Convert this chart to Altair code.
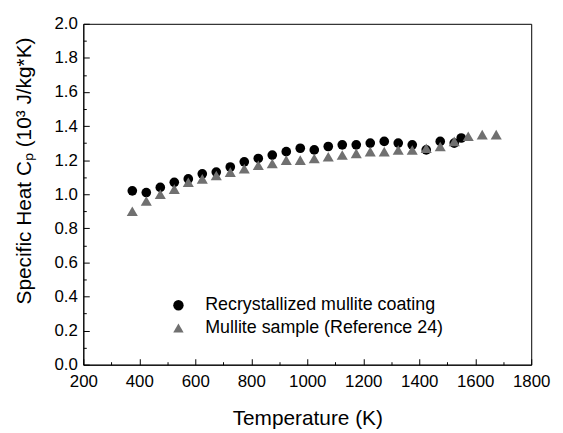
import altair as alt
import pandas as pd

# Recrystallized mullite coating (circles)
t_coat = [375, 425, 475, 525, 575, 625, 675, 725, 775, 825, 875, 925, 975, 1025,
          1075, 1125, 1175, 1225, 1275, 1325, 1375, 1425, 1475, 1525, 1550]
cp_coat = [1.02, 1.01, 1.04, 1.07, 1.09, 1.12, 1.13, 1.16, 1.19, 1.21, 1.23, 1.25, 1.27, 1.26,
           1.28, 1.29, 1.29, 1.30, 1.31, 1.30, 1.29, 1.26, 1.31, 1.30, 1.33]

# Mullite sample (Reference 24) (triangles)
t_ref = [375, 425, 475, 525, 575, 625, 675, 725, 775, 825, 875, 925, 975, 1025,
         1075, 1125, 1175, 1225, 1275, 1325, 1375, 1425, 1475, 1525, 1575, 1625, 1675]
cp_ref = [0.90, 0.96, 1.00, 1.03, 1.07, 1.09, 1.11, 1.13, 1.15, 1.17, 1.18, 1.20, 1.20, 1.21,
          1.22, 1.23, 1.24, 1.25, 1.25, 1.26, 1.26, 1.27, 1.28, 1.31, 1.34, 1.35, 1.35]

series_names = ["Recrystallized mullite coating", "Mullite sample (Reference 24)"]
series_colors = ["#000000", "#707070"]
series_shapes = ["circle", "triangle-up"]

x_major = [200, 400, 600, 800, 1000, 1200, 1400, 1600, 1800]
x_minor = [300, 500, 700, 900, 1100, 1300, 1500, 1700]
y_major = [0.0, 0.2, 0.4, 0.6, 0.8, 1.0, 1.2, 1.4, 1.6, 1.8, 2.0]
y_minor = [0.1, 0.3, 0.5, 0.7, 0.9, 1.1, 1.3, 1.5, 1.7, 1.9]

df_coat = pd.DataFrame({"T": t_coat, "Cp": cp_coat, "series": series_names[0]})
df_ref = pd.DataFrame({"T": t_ref, "Cp": cp_ref, "series": series_names[1]})

W, H = 452, 344
FONT = "Liberation Sans"

xscale = alt.Scale(domain=[200, 1800], nice=False, zero=False)
yscale = alt.Scale(domain=[0, 2.0], nice=False, zero=False)
cscale = alt.Scale(domain=series_names, range=series_colors)
sscale = alt.Scale(domain=series_names, range=series_shapes)

legend = alt.Legend(
    title=None, orient="none", legendX=87, legendY=275,
    labelFontSize=18, labelFont=FONT, labelColor="#000", labelLimit=0,
    symbolSize=110, symbolStrokeWidth=0, labelOffset=18, rowPadding=5,
    symbolOpacity=1,
)

circles = alt.Chart(df_coat).mark_point(filled=True, size=95, opacity=1).encode(
    x=alt.X("T:Q", scale=xscale,
            axis=alt.Axis(values=x_major, tickSize={"expr": "-6"}, labelPadding=15,
                          format="d", labelOverlap=False, labelFlush=False,
                          title="Temperature (K)", titlePadding=18)),
    y=alt.Y("Cp:Q", scale=yscale,
            axis=alt.Axis(values=y_major, tickSize={"expr": "-6"}, labelPadding=12,
                          format=".1f", labelOverlap=False, labelFlush=False,
                          title="Specific Heat C\u209a (10\u00b3 J/kg*K)", titlePadding=20,
                          titleY=148)),
    color=alt.Color("series:N", scale=cscale, legend=legend),
    shape=alt.Shape("series:N", scale=sscale, legend=legend),
)

triangles = alt.Chart(df_ref).mark_point(filled=True, size=125, opacity=1).encode(
    x=alt.X("T:Q", scale=xscale, axis=None),
    y=alt.Y("Cp:Q", scale=yscale, axis=None),
    color=alt.Color("series:N", scale=cscale, legend=legend),
    shape=alt.Shape("series:N", scale=sscale, legend=legend),
)

minor = alt.Chart(df_coat).mark_point(opacity=0).encode(
    x=alt.X("T:Q", scale=xscale,
            axis=alt.Axis(orient="bottom", values=x_minor, labels=False, domain=False,
                          tickSize={"expr": "-3"}, title=None)),
    y=alt.Y("Cp:Q", scale=yscale,
            axis=alt.Axis(orient="left", values=y_minor, labels=False, domain=False,
                          tickSize={"expr": "-3"}, title=None)),
)

chart = alt.layer(circles, triangles, minor).resolve_axis(
    x="independent", y="independent"
).properties(
    width=W, height=H, background="#ffffff"
).configure_view(
    stroke="#000", strokeWidth=1
).configure_axis(
    labelFont=FONT, titleFont=FONT, labelFontSize=17, titleFontSize=21,
    labelColor="#000", titleColor="#000", domainColor="#000", tickColor="#000",
    grid=False, titleFontWeight="normal", domainWidth=1, tickWidth=1,
)

chart.save("out.html", embed_options={"renderer": "svg", "actions": False})
